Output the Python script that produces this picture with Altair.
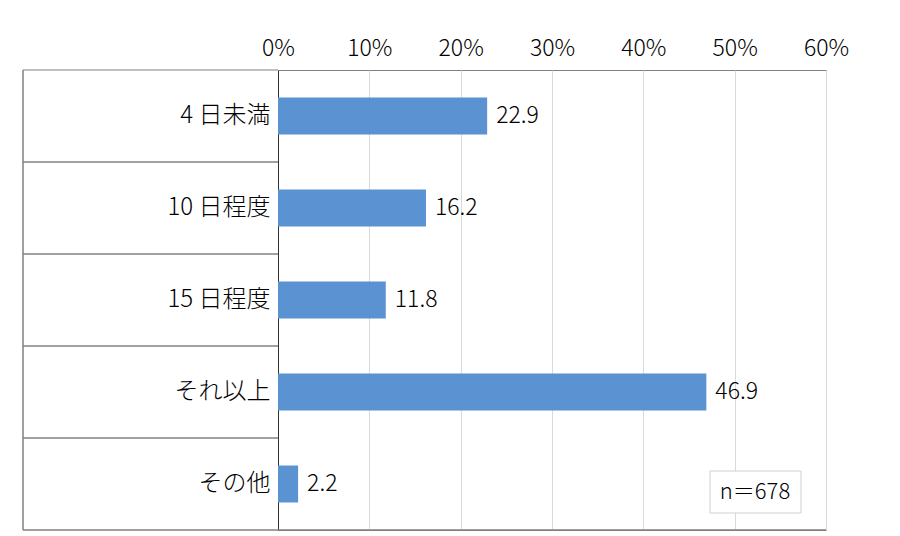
import altair as alt
import pandas as pd

categories = ["4 日未満", "10 日程度", "15 日程度", "それ以上", "その他"]
values = [22.9, 16.2, 11.8, 46.9, 2.2]
tick_values = [0, 10, 20, 30, 40, 50, 60]
note_text = "n＝678"

FONT = "Noto Sans CJK JP"
df = pd.DataFrame({"cat": categories, "val": values,
                   "lbl": [f"{v:.1f}" for v in values]})
sep_df = pd.DataFrame({"cat": categories[1:]})

W, H = 548, 460
LEFT = 255

y_enc = alt.Y("cat:N", sort=categories, scale=alt.Scale(paddingInner=0, paddingOuter=0),
              axis=alt.Axis(title=None, ticks=False, domain=True, domainColor="#333333",
                            labelFont=FONT, labelFontSize=24, labelFontWeight=300,
                            labelColor="#000000", labelPadding=8, labelLimit=300))
x_enc = alt.X("val:Q", scale=alt.Scale(domain=[0, 60], nice=False),
              axis=alt.Axis(title=None, orient="top", values=tick_values,
                            labelExpr="datum.value + '%'", ticks=False, domain=False,
                            labelFlush=False, labelOverlap=False,
                            grid=True, gridColor="#d9d9d9", labelFont=FONT,
                            labelFontSize=23, labelFontWeight=300,
                            labelColor="#000000", labelPadding=10))

bars = alt.Chart(df).mark_bar(size=37, color="#5A92D2").encode(x=x_enc, y=y_enc)
labels = alt.Chart(df).mark_text(align="left", baseline="middle", dx=9, font=FONT,
                                 fontSize=23, fontWeight=300, color="#000000").encode(
    x="val:Q", y=alt.Y("cat:N", sort=categories), text="lbl:N")

seps = alt.Chart(sep_df).mark_rule(color="#444444", strokeWidth=1).encode(
    y=alt.Y("cat:N", sort=categories, bandPosition=0),
    x=alt.value(-LEFT), x2=alt.value(0))

frame_df = pd.DataFrame({"k": [0]})
left_border = alt.Chart(frame_df).mark_rule(color="#808080", strokeWidth=1.5).encode(
    x=alt.value(-LEFT), y=alt.value(0), y2=alt.value(H))
top_border = alt.Chart(frame_df).mark_rule(color="#808080", strokeWidth=1).encode(
    x=alt.value(-LEFT), x2=alt.value(0), y=alt.value(0))
bottom_border = alt.Chart(frame_df).mark_rule(color="#808080", strokeWidth=1.5).encode(
    x=alt.value(-LEFT), x2=alt.value(W), y=alt.value(H))

note_box = alt.Chart(frame_df).mark_rect(fill="white", stroke="#d0d0d0", strokeWidth=1).encode(
    x=alt.value(432), x2=alt.value(523), y=alt.value(401), y2=alt.value(443))
note = alt.Chart(pd.DataFrame({"t": [note_text]})).mark_text(
    font=FONT, fontSize=22, fontWeight=300, color="#000000", align="center",
    baseline="middle").encode(x=alt.value(477), y=alt.value(422), text="t:N")

chart = alt.layer(bars, labels, seps, left_border, top_border, bottom_border, note_box, note).properties(
    width=W, height=H,
    autosize=alt.AutoSizeParams(type="none"),
    padding={"left": 270, "top": 62, "right": 60, "bottom": 10},
).configure_view(stroke="#808080", strokeWidth=1)

chart.save("out.html", embed_options={"renderer": "svg", "actions": False})
